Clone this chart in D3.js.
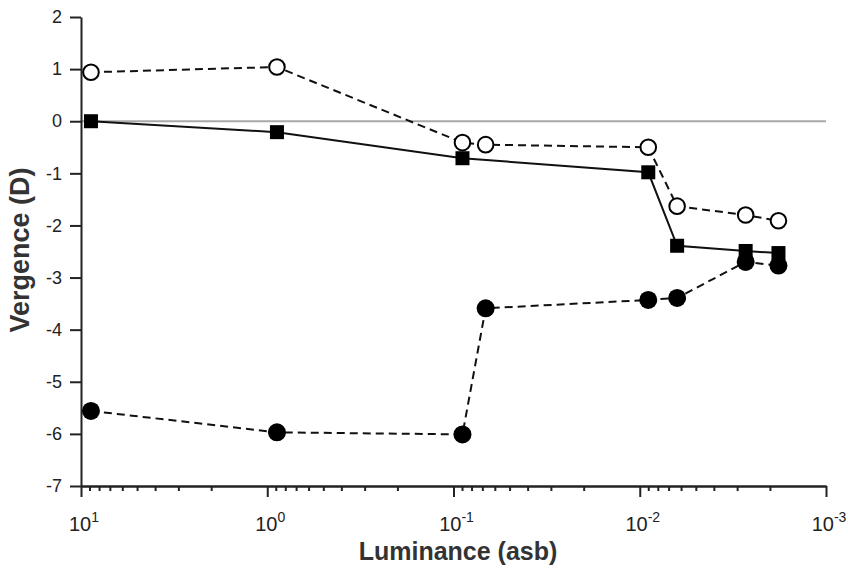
<!DOCTYPE html>
<html>
<head>
<meta charset="utf-8">
<script src="https://cdn.jsdelivr.net/npm/d3@7"></script>
<style>
body { margin: 0; background: #fff; }
text { font-family: "Liberation Sans", Arial, sans-serif; }
</style>
</head>
<body>
<script>
var W = 848, H = 570;

// luminance (asb) of each test level
var lum = [8.84, 0.887, 0.0895, 0.0672, 0.0090, 0.0063, 0.0027, 0.0018];
// solid line, filled squares (no reading at 0.0672)
var squareLum = [8.84, 0.887, 0.0895, 0.0090, 0.0063, 0.0027, 0.0018];
var squareVals = [0, -0.21, -0.71, -0.98, -2.39, -2.49, -2.53];
// dashed, open circles
var openVals = [0.94, 1.04, -0.41, -0.45, -0.50, -1.63, -1.80, -1.91];
// dashed, filled circles
var filledVals = [-5.56, -5.97, -6.01, -3.59, -3.43, -3.39, -2.70, -2.77];

var yTicks = [-7, -6, -5, -4, -3, -2, -1, 0, 1, 2];
var xMajor = [10, 1, 0.1, 0.01, 0.001];
var xExp = ["1", "0", "-1", "-2", "-3"];

var mLeft = 81, mRight = 826, mTop = 17, mBottom = 486;

var x = d3.scaleLog().domain([10, 0.001]).range([mLeft, mRight]);
var y = d3.scaleLinear().domain([-7, 2]).range([mBottom, mTop]);

var svg = d3.select("body").append("svg")
	.attr("width", W)
	.attr("height", H);

// zero reference line
svg.append("line")
	.attr("x1", mLeft).attr("x2", mRight)
	.attr("y1", y(0)).attr("y2", y(0))
	.attr("stroke", "#a8a8a8")
	.attr("stroke-width", 2);

// minor x ticks
var minors = [];
for (var k = -3; k < 1; k++) {
	for (var m = 2; m < 10; m++) minors.push(m * Math.pow(10, k));
}

var gx = svg.append("g").attr("transform", "translate(0," + mBottom + ")");
gx.call(d3.axisBottom(x).tickValues(minors).tickSize(5).tickFormat("").tickSizeOuter(0));
gx.append("g").call(d3.axisBottom(x).tickValues(xMajor).tickSize(11).tickFormat("").tickSizeOuter(0));
gx.selectAll("path, line").attr("stroke", "#222").attr("stroke-width", 2);

// major x labels with superscripts
var lab = svg.append("g").selectAll("text").data(xMajor).enter()
	.append("text")
	.attr("x", d => x(d) + 3)
	.attr("y", 531)
	.attr("text-anchor", "middle")
	.attr("font-size", 20)
	.attr("fill", "#222");
lab.append("tspan").text("10");
lab.append("tspan").attr("dy", -9).attr("font-size", 14).text((d, i) => xExp[i]);

var gy = svg.append("g").attr("transform", "translate(" + mLeft + ",0)");
gy.call(d3.axisLeft(y).tickValues(yTicks).tickSize(11).tickSizeOuter(0).tickPadding(8)
	.tickFormat(d => String(d)));
gy.selectAll("path, line").attr("stroke", "#222").attr("stroke-width", 2);
gy.selectAll("text")
	.attr("font-size", 18)
	.attr("fill", "#222")
	.attr("font-family", "Liberation Sans, Arial, sans-serif");

// axis titles
svg.append("text")
	.attr("x", 458)
	.attr("y", 560)
	.attr("text-anchor", "middle")
	.attr("font-size", 25)
	.attr("font-weight", "bold")
	.attr("fill", "#333")
	.text("Luminance (asb)");

svg.append("text")
	.attr("transform", "translate(29,250) rotate(-90)")
	.attr("text-anchor", "middle")
	.attr("font-size", 27)
	.attr("font-weight", "bold")
	.attr("fill", "#333")
	.text("Vergence (D)");

var line = d3.line().x(d => x(d[0])).y(d => y(d[1]));

var sq = squareLum.map((l, i) => [l, squareVals[i]]);
var op = lum.map((l, i) => [l, openVals[i]]);
var fc = lum.map((l, i) => [l, filledVals[i]]);

// filled circles, dashed
svg.append("path").datum(fc).attr("d", line)
	.attr("fill", "none").attr("stroke", "#111")
	.attr("stroke-width", 2).attr("stroke-dasharray", "8,5");

// open circles, dashed
svg.append("path").datum(op).attr("d", line)
	.attr("fill", "none").attr("stroke", "#111")
	.attr("stroke-width", 2).attr("stroke-dasharray", "8,5");

// squares, solid
svg.append("path").datum(sq).attr("d", line)
	.attr("fill", "none").attr("stroke", "#111")
	.attr("stroke-width", 2);

svg.selectAll(".fc").data(fc).enter()
	.append("circle").attr("class", "fc")
	.attr("cx", d => x(d[0])).attr("cy", d => y(d[1]))
	.attr("r", 9).attr("fill", "#000");

svg.selectAll(".sq").data(sq).enter()
	.append("rect").attr("class", "sq")
	.attr("x", d => x(d[0]) - 7).attr("y", d => y(d[1]) - 7)
	.attr("width", 14).attr("height", 14)
	.attr("fill", "#000");

svg.selectAll(".op").data(op).enter()
	.append("circle").attr("class", "op")
	.attr("cx", d => x(d[0])).attr("cy", d => y(d[1]))
	.attr("r", 7.8).attr("fill", "#fff")
	.attr("stroke", "#000").attr("stroke-width", 2);
</script>
</body>
</html>
